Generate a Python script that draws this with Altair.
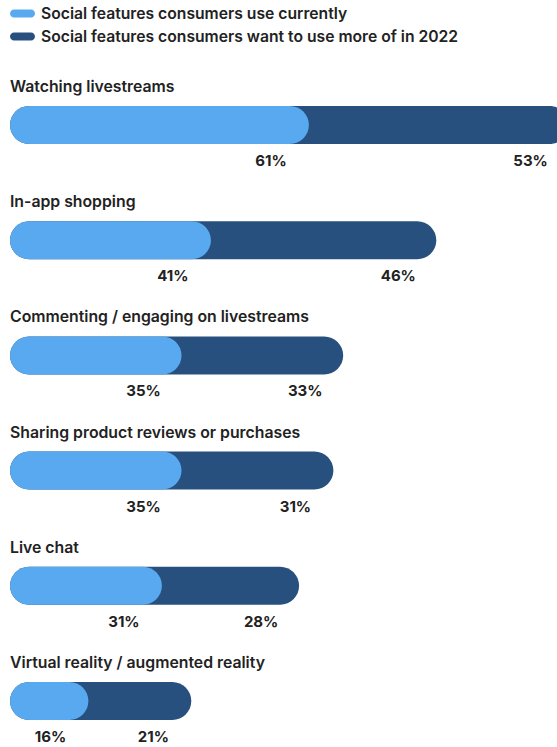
import altair as alt
import pandas as pd

features = [
    "Watching livestreams",
    "In-app shopping",
    "Commenting / engaging on livestreams",
    "Sharing product reviews or purchases",
    "Live chat",
    "Virtual reality / augmented reality",
]
current = [61, 41, 35, 35, 31, 16]
want_more = [53, 46, 33, 31, 28, 21]
series = [
    "Social features consumers use currently",
    "Social features consumers want to use more of in 2022",
]
colors = ["#58a9ef", "#28507f"]

rows = []
for f, c, w in zip(features, current, want_more):
    rows.append({"feature": f, "series": series[1], "start": 0, "end": c + w, "label": f"{w}%", "layer": 0})
    rows.append({"feature": f, "series": series[0], "start": 0, "end": c, "label": f"{c}%", "layer": 1})
df = pd.DataFrame(rows)
titles = pd.DataFrame({"feature": features, "start": [0] * len(features)})

FONT = "Inter"
x_scale = alt.Scale(domain=[0, 110], range=[10, 549])
y_scale = alt.Scale(type="point", domain=features, range=[125, 701], padding=0)

pill = "M-1.05,-0.5 L1.05,-0.5 A0.5,0.5 0 0 1 1.05,0.5 L-1.05,0.5 A0.5,0.5 0 0 1 -1.05,-0.5 Z"

bars = alt.Chart(df).mark_bar(cornerRadius=19, size=38, clip=True).encode(
    x=alt.X("start:Q", scale=x_scale, axis=None),
    x2="end:Q",
    y=alt.Y("feature:N", scale=y_scale, axis=None, sort=features),
    color=alt.Color(
        "series:N",
        scale=alt.Scale(domain=series, range=colors),
        legend=alt.Legend(
            orient="none",
            legendX=14,
            legendY=5,
            title=None,
            symbolType=pill,
            symbolSize=260,
            symbolStrokeWidth=0,
            symbolOpacity=1,
            labelFont=FONT,
            labelFontSize=15.7,
            labelFontWeight=600,
            labelColor="#222222",
            labelOffset=10,
            rowPadding=6,
            labelLimit=600,
        ),
    ),
    order=alt.Order("layer:Q"),
)

labels = alt.Chart(df).mark_text(
    font=FONT, fontSize=15, fontWeight=700, color="#222222", align="center",
    baseline="middle", dx=-38, dy=36,
).encode(
    x=alt.X("end:Q", scale=x_scale, axis=None),
    y=alt.Y("feature:N", scale=y_scale, axis=None, sort=features),
    text="label:N",
)

title_text = alt.Chart(titles).mark_text(
    font=FONT, fontSize=15.8, fontWeight=600, color="#222222", align="left",
    baseline="middle", dy=-38,
).encode(
    x=alt.X("start:Q", scale=x_scale, axis=None),
    y=alt.Y("feature:N", scale=y_scale, axis=None, sort=features),
    text="feature:N",
)

chart = alt.layer(bars, labels, title_text).properties(
    width=557, height=747, padding=0, autosize=alt.AutoSizeParams(type="none"),
    background="white",
).configure_view(stroke=None)

chart.save("out.html", embed_options={"renderer": "svg", "actions": False})
